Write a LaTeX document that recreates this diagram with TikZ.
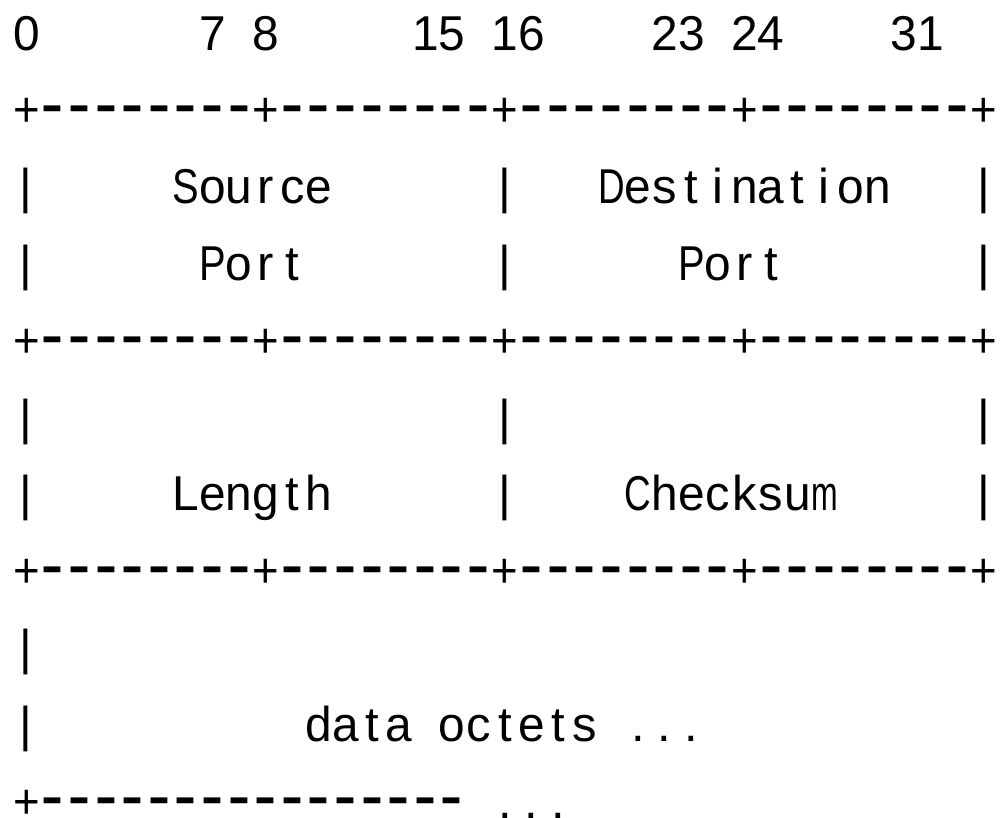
\documentclass[tikz,border=0pt]{standalone}
\usepackage{fontspec}
\usepackage{graphicx}
\setmainfont{Liberation Sans}

% fixed-pitch cells: every character is centred in a box of width \cellw,
% and characters wider than a cell are narrowed to fit it
\newlength\cellw
\setlength\cellw{19.95pt}
\newsavebox\chbox
\def\hyph{-}
\newcommand\dashglyph{\raisebox{0.1em}{\scalebox{1.35}[1]{\bfseries -}}}
\newcommand\fitchar[1]{%
  \sbox\chbox{#1}%
  \ifdim\wd\chbox>\cellw
    \edef\fitw{\the\wd\chbox}%
    \pgfmathsetmacro\fitr{\the\cellw/\fitw}%
    \scalebox{\fitr}[1]{\usebox\chbox}%
  \else
    \usebox\chbox
  \fi}
\makeatletter
\newcommand\cells[1]{\@tfor\ch:=#1\do{%
  \makebox[\cellw][c]{\ifx\ch\hyph\dashglyph\else\fitchar{\ch}\fi}}}
\makeatother

\begin{document}
\begin{tikzpicture}[
  x=19.95pt, y=-57.6pt,
  txt/.style={anchor=base west, inner sep=0pt, outer sep=0pt,
              font=\fontsize{36.7pt}{44pt}\selectfont}
]
\useasboundingbox (-9.75pt,37.5pt) rectangle (741pt,-576pt);

% bit numbers
\node[txt] (bit0)  at (0,0)  {\cells{0}};
\node[txt] (bit7)  at (7,0)  {\cells{7}};
\node[txt] (bit8)  at (9,0)  {\cells{8}};
\node[txt] (bit15) at (15,0) {\cells{15}};
\node[txt] (bit16) at (18,0) {\cells{16}};
\node[txt] (bit23) at (24,0) {\cells{23}};
\node[txt] (bit24) at (27,0) {\cells{24}};
\node[txt] (bit31) at (33,0) {\cells{31}};

% horizontal borders
\node[txt] (top)  at (0,1) {\cells{+--------+--------+--------+--------+}};
\node[txt] (mid)  at (0,4) {\cells{+--------+--------+--------+--------+}};
\node[txt] (low)  at (0,7) {\cells{+--------+--------+--------+--------+}};
\node[txt] (tail) at (0,10) {\cells{+----------------}};
\node[txt] (taildots) at (18,10) {\cells{...}};

% vertical bars
\foreach \r in {2,3,5,6}{
  \foreach \c in {0,18,36}{
    \node[txt] (bar-\r-\c) at (\c,\r) {\cells{|}};
  }
}
\node[txt] (bar-8-0) at (0,8) {\cells{|}};
\node[txt] (bar-9-0) at (0,9) {\cells{|}};

% field names
\node[txt] (src)   at (6,2)  {\cells{Source}};
\node[txt] (dst)   at (22,2) {\cells{Destination}};
\node[txt] (srcp)  at (7,3)  {\cells{Port}};
\node[txt] (dstp)  at (25,3) {\cells{Port}};
\node[txt] (len)   at (6,6)  {\cells{Length}};
\node[txt] (csum)  at (23,6) {\cells{Checksum}};
\node[txt] (data)  at (11,9) {\cells{data}};
\node[txt] (oct)   at (16,9) {\cells{octets}};
\node[txt] (dots)  at (23,9) {\cells{...}};
\end{tikzpicture}
\end{document}
